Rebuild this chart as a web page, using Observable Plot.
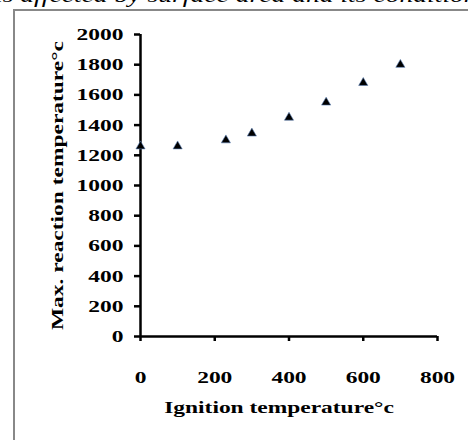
<!DOCTYPE html>
<html>
<head>
<meta charset="utf-8">
<script src="https://cdn.jsdelivr.net/npm/d3@7"></script>
<script src="https://cdn.jsdelivr.net/npm/@observablehq/plot@0.6"></script>
<style>
  html, body { margin: 0; padding: 0; background: #fff; }
  #wrap { position: relative; width: 468px; height: 440px; overflow: hidden; background: #fff; }
  #top { position: absolute; left: -5px; top: -16px; white-space: nowrap;
         font: italic 20px "Liberation Serif", "Times New Roman", serif; color: #000;
         transform: scaleX(1.38); transform-origin: left top; }
  #frame { position: absolute; left: 13px; top: 9px; width: 480px; height: 460px;
           border: 2px solid #888; box-sizing: border-box; }
  #chart { position: absolute; left: 0; top: 0; }
  #chart svg text { font-family: "Liberation Serif", "Times New Roman", serif; font-weight: bold; }
  #chart svg g[aria-label$="tick"] path { stroke-width: 2.5px; }
</style>
</head>
<body>
<div id="wrap">
  <div id="top">is affected by surface area and its condition</div>
  <div id="frame"></div>
  <div id="chart"></div>
</div>
<script>
const ignition = [0, 100, 230, 300, 400, 500, 600, 700];
const maxReaction = [1260, 1260, 1300, 1345, 1450, 1550, 1680, 1800];
const xTicks = [0, 200, 400, 600, 800];
const yTicks = [0, 200, 400, 600, 800, 1000, 1200, 1400, 1600, 1800, 2000];
const xLabel = "Ignition temperature\u00b0c";
const yLabel = "Max. reaction temperature\u00b0c";

const data = ignition.map((x, i) => ({x, y: maxReaction[i]}));
const fmt = d => String(d);

const chart = Plot.plot({
  width: 468,
  height: 440,
  marginLeft: 140,
  marginRight: 31,
  marginTop: 34,
  marginBottom: 104,
  style: {background: "transparent", fontSize: "17px", color: "#000"},
  x: {domain: [0, 800]},
  y: {domain: [0, 2000]},
  marks: [
    Plot.axisY({ticks: yTicks, tickFormat: fmt, tickSize: 6, tickPadding: 11, label: null, fontSize: 17}),
    Plot.axisX({ticks: xTicks, tickFormat: fmt, tickSize: 5, tickPadding: 29, label: null, fontSize: 17}),
    Plot.axisY({ticks: [], label: yLabel, labelArrow: "none", labelAnchor: "center", labelOffset: 90, fontSize: 17}),
    Plot.axisX({ticks: [], label: xLabel, labelArrow: "none", labelAnchor: "center", labelOffset: 76, fontSize: 17}),
    Plot.ruleX([0], {strokeWidth: 2.5, stroke: "#000"}),
    Plot.ruleY([0], {strokeWidth: 2.5, stroke: "#000"}),
    Plot.dot(data, {x: "x", y: "y", symbol: "triangle", r: 3.4, fill: "#000", stroke: "#5b7fb5", strokeWidth: 0.6})
  ]
});
// widen the lettering horizontally, as in the reference's stretched serif type
d3.select(chart).selectAll("text").each(function() {
  const t = this.getAttribute("transform") || "";
  this.setAttribute("transform", (t + " scale(1.38,1)").trim());
});
// the reference's x title sits slightly left of the plot centre
d3.select(chart).selectAll('g[aria-label="x-axis label"] text').each(function() {
  const t = this.getAttribute("transform") || "";
  this.setAttribute("transform", "translate(-10,0) " + t);
});
document.getElementById("chart").appendChild(chart);
</script>
</body>
</html>
